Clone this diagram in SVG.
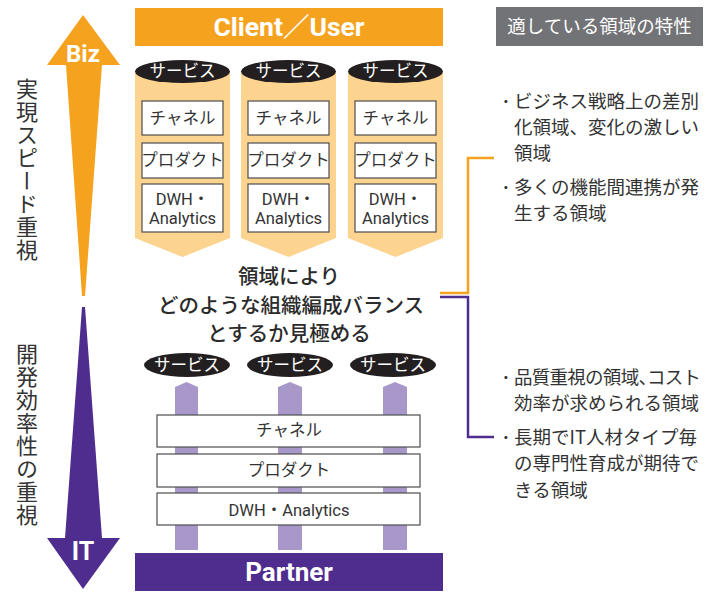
<svg xmlns="http://www.w3.org/2000/svg" width="720" height="592" viewBox="0 0 720 592">
  <defs>
    <style>
      text { font-family: "Noto Sans CJK JP", "Noto Sans", sans-serif; }
      .lat { font-family: Roboto, "Noto Sans CJK JP", sans-serif; }
      .svc { fill: #fff; font-size: 16.5px; text-anchor: middle; }
      .box { fill: #fff; stroke: #4d4d4d; stroke-width: 1.2; }
      .boxt { fill: #333; font-size: 16.5px; text-anchor: middle; }
      .pill { fill: #231f20; }
      .cyl { fill: #fdd390; }
      .pillar { fill: #a898ca; }
      .side { fill: #333; font-size: 22px; writing-mode: vertical-rl; letter-spacing: 1px; }
      .note { fill: #333; font-size: 18.5px; }
      .dot { fill: #333; font-size: 18.5px; text-anchor: middle; }
      .half { font-feature-settings: "halt"; }
      .head { fill: #fff; font-weight: bold; text-anchor: middle; }
    </style>
  </defs>

  <!-- axis arrows -->
  <g id="biz-arrow">
    <polygon points="83,15 120,65 102,65 85,296 82,296 66,65 47,65" fill="#f5a31e"/>
    <text x="83" y="62" class="head lat" font-size="24">Biz</text>
  </g>
  <g id="it-arrow">
    <polygon points="82,307 85,307 102,538 120,538 83,589 47,538 65,538" fill="#4f2d8f"/>
    <text x="83" y="560" class="head lat" font-size="25">IT</text>
  </g>
  <g id="axis-labels">
    <text x="27" y="78" class="side">実現スピード重視</text>
    <text x="27" y="343" class="side">開発効率性の重視</text>
  </g>

  <!-- top: client bar and vertical stacks -->
  <g id="client">
    <rect x="135" y="8" width="308" height="38" fill="#f5a31e"/>
    <text x="289" y="36" class="head lat" font-size="26.5">Client／User</text>
  </g>

  <g id="stack-1">
    <polygon class="cyl" points="135,71 230,71 230,238 182.5,257 135,238"/>
    <ellipse class="pill" cx="182.5" cy="71.5" rx="47.5" ry="11.5"/>
    <text x="182.5" y="77" class="svc">サービス</text>
    <rect class="box" x="142" y="101" width="81" height="34"/>
    <text x="182.5" y="124" class="boxt">チャネル</text>
    <rect class="box" x="142" y="143" width="81" height="35"/>
    <text x="182.5" y="166" class="boxt">プロダクト</text>
    <rect class="box" x="142" y="184" width="81" height="48"/>
    <text x="182.5" y="205" class="boxt lat">DWH・</text>
    <text x="182.5" y="224" class="boxt lat">Analytics</text>
  </g>
  <g id="stack-2">
    <polygon class="cyl" points="241,71 336,71 336,238 288.5,257 241,238"/>
    <ellipse class="pill" cx="288.5" cy="71.5" rx="47.5" ry="11.5"/>
    <text x="288.5" y="77" class="svc">サービス</text>
    <rect class="box" x="248" y="101" width="81" height="34"/>
    <text x="288.5" y="124" class="boxt">チャネル</text>
    <rect class="box" x="248" y="143" width="81" height="35"/>
    <text x="288.5" y="166" class="boxt">プロダクト</text>
    <rect class="box" x="248" y="184" width="81" height="48"/>
    <text x="288.5" y="205" class="boxt lat">DWH・</text>
    <text x="288.5" y="224" class="boxt lat">Analytics</text>
  </g>
  <g id="stack-3">
    <polygon class="cyl" points="348,71 443,71 443,238 395.5,257 348,238"/>
    <ellipse class="pill" cx="395.5" cy="71.5" rx="47.5" ry="11.5"/>
    <text x="395.5" y="77" class="svc">サービス</text>
    <rect class="box" x="355" y="101" width="81" height="34"/>
    <text x="395.5" y="124" class="boxt">チャネル</text>
    <rect class="box" x="355" y="143" width="81" height="35"/>
    <text x="395.5" y="166" class="boxt">プロダクト</text>
    <rect class="box" x="355" y="184" width="81" height="48"/>
    <text x="395.5" y="205" class="boxt lat">DWH・</text>
    <text x="395.5" y="224" class="boxt lat">Analytics</text>
  </g>

  <!-- central question -->
  <g id="question" fill="#2b2b2b" font-size="20.5" font-weight="500" text-anchor="middle">
    <text x="289" y="284">領域により</text>
    <text x="291" y="313">どのような組織編成バランス</text>
    <text x="289" y="341">とするか見極める</text>
  </g>

  <!-- bottom: shared layers -->
  <g id="pillars">
    <polygon class="pillar" points="175,387 186.5,382 198,387 198,550 175,550"/>
    <polygon class="pillar" points="278,387 290,382 302,387 302,550 278,550"/>
    <polygon class="pillar" points="383,387 395,382 407,387 407,550 383,550"/>
  </g>
  <g id="service-b1">
    <ellipse class="pill" cx="187" cy="365" rx="43" ry="12"/>
    <text x="187" y="371" class="svc">サービス</text>
  </g>
  <g id="service-b2">
    <ellipse class="pill" cx="290" cy="365" rx="43" ry="12"/>
    <text x="290" y="371" class="svc">サービス</text>
  </g>
  <g id="service-b3">
    <ellipse class="pill" cx="393" cy="365" rx="43" ry="12"/>
    <text x="393" y="371" class="svc">サービス</text>
  </g>
  <g id="layer-channel">
    <rect class="box" x="157" y="415" width="263" height="32"/>
    <text x="289" y="436" class="boxt">チャネル</text>
  </g>
  <g id="layer-product">
    <rect class="box" x="157" y="454" width="263" height="33"/>
    <text x="289" y="476" class="boxt">プロダクト</text>
  </g>
  <g id="layer-dwh">
    <rect class="box" x="157" y="493" width="263" height="32"/>
    <text x="289" y="516" class="boxt lat">DWH・Analytics</text>
  </g>
  <g id="partner">
    <rect x="135" y="553" width="308" height="38" fill="#4f2d8f"/>
    <text x="289" y="581" class="head lat" font-size="26">Partner</text>
  </g>

  <!-- brackets linking to the notes -->
  <g id="connectors" fill="none" stroke-width="2.5">
    <path d="M440,293 H468 V158 H494" stroke="#f5a31e"/>
    <path d="M440,297 H468 V437 H494" stroke="#4f2d8f"/>
  </g>

  <!-- notes -->
  <g id="notes-header">
    <rect x="496" y="7" width="207" height="39" fill="#727376"/>
    <text x="599.5" y="33" fill="#fff" font-size="18.5" text-anchor="middle">適している領域の特性</text>
  </g>
  <g id="notes-biz">
    <text x="506" y="108" class="dot">･</text>
    <text x="514" y="108" class="note">ビジネス戦略上の差別</text>
    <text x="514" y="134" class="note">化領域、変化の激しい</text>
    <text x="514" y="160" class="note">領域</text>
    <text x="506" y="194" class="dot">･</text>
    <text x="514" y="194" class="note">多くの機能間連携が発</text>
    <text x="514" y="220" class="note">生する領域</text>
  </g>
  <g id="notes-it">
    <text x="506" y="384" class="dot">･</text>
    <text x="514" y="384" class="note half" textLength="187" lengthAdjust="spacing">品質重視の領域、コスト</text>
    <text x="514" y="410" class="note">効率が求められる領域</text>
    <text x="506" y="444" class="dot">･</text>
    <text x="514" y="444" class="note">長期でIT人材タイプ毎</text>
    <text x="514" y="470" class="note">の専門性育成が期待で</text>
    <text x="514" y="497" class="note">きる領域</text>
  </g>
</svg>
